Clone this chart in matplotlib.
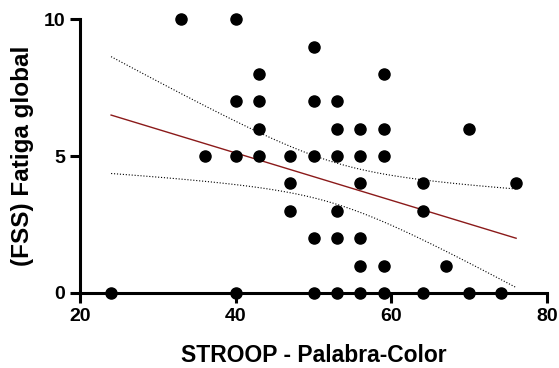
import numpy as np
import matplotlib.pyplot as plt

plt.rcParams['font.family'] = ['Liberation Sans', 'DejaVu Sans']
plt.rcParams['font.weight'] = 'bold'

# STROOP Palabra-Color vs FSS fatiga global
stroop = [33, 40,
          50,
          43, 59,
          40, 43, 50, 53,
          43, 53, 56, 59, 70,
          36, 40, 43, 47, 50, 53, 56, 59,
          47, 56, 64, 76,
          47, 53, 64,
          50, 53, 56,
          56, 59, 67,
          24, 40, 50, 53, 56, 59, 64, 70, 74]
fss = [10, 10,
       9,
       8, 8,
       7, 7, 7, 7,
       6, 6, 6, 6, 6,
       5, 5, 5, 5, 5, 5, 5, 5,
       4, 4, 4, 4,
       3, 3, 3,
       2, 2, 2,
       1, 1, 1,
       0, 0, 0, 0, 0, 0, 0, 0, 0]

x = np.array(stroop, float)
y = np.array(fss, float)
n = len(x)
b, a = np.polyfit(x, y, 1)
xs = np.linspace(x.min(), x.max(), 100)
yfit = a + b * xs
resid = y - (a + b * x)
s = np.sqrt(np.sum(resid ** 2) / (n - 2))
se = s * np.sqrt(1 / n + (xs - x.mean()) ** 2 / np.sum((x - x.mean()) ** 2))
t = 1.75
lo = yfit - t * se
hi = yfit + t * se

fig = plt.figure(figsize=(5.59, 3.68), dpi=100)
ax = fig.add_axes([0.143, 0.204, 0.836, 0.744])

ax.plot(xs, hi, ':', color='black', lw=0.8)
ax.plot(xs, lo, ':', color='black', lw=0.8)
ax.plot(xs, yfit, '-', color='#8b1a1a', lw=1.0)
ax.plot(x, y, 'o', color='black', ms=8, clip_on=False, zorder=5)

ax.set_xlim(20, 80)
ax.set_ylim(0, 10)
ax.set_xticks([20, 40, 60, 80])
ax.set_yticks([0, 5, 10])
ax.spines['top'].set_visible(False)
ax.spines['right'].set_visible(False)
for sp in ['left', 'bottom']:
    ax.spines[sp].set_linewidth(2.2)
ax.tick_params(width=2.2, length=7, labelsize=14, direction='out')
ax.set_xlabel('STROOP - Palabra-Color', fontsize=16.5, fontweight='bold', labelpad=14)
ax.set_ylabel('(FSS) Fatiga global', fontsize=17.5, fontweight='bold', labelpad=7)

fig.savefig('out.png', dpi=100)
